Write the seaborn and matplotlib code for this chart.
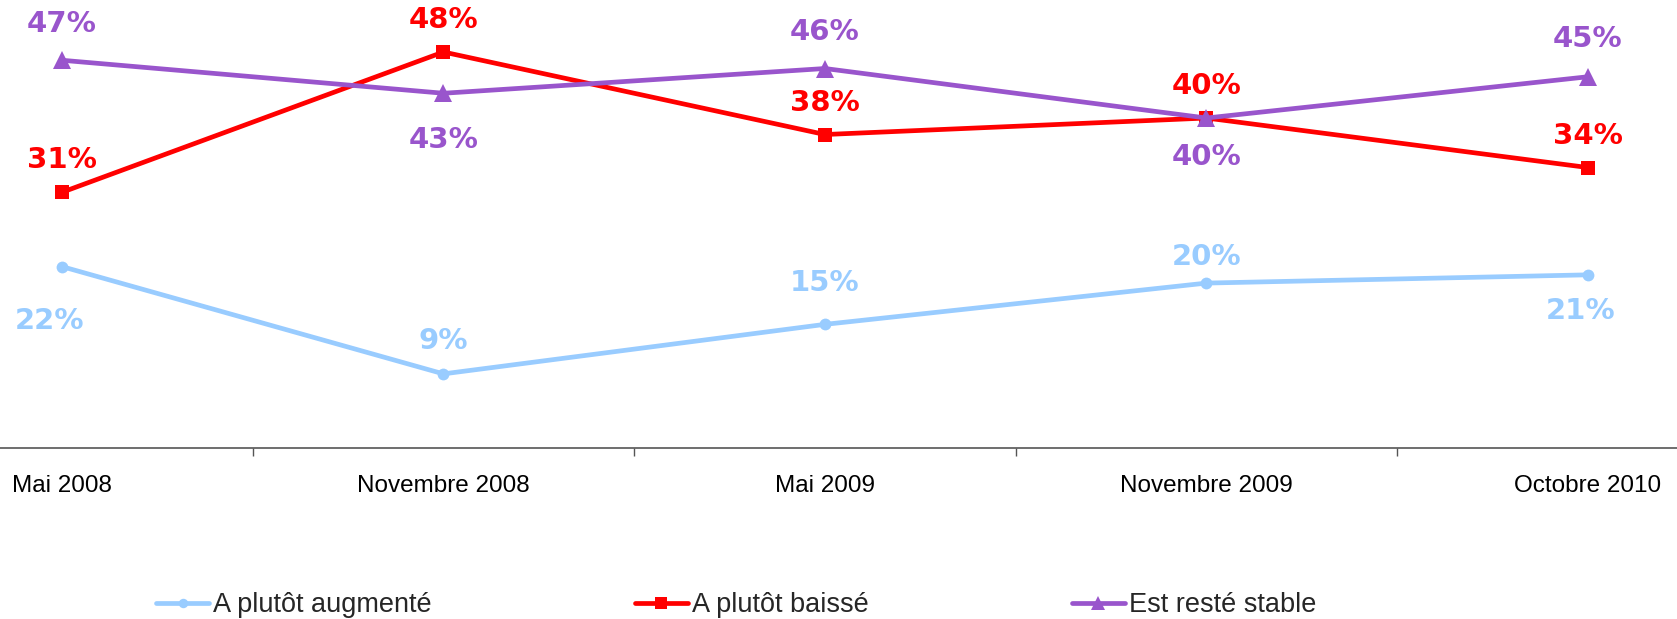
import matplotlib
matplotlib.use("Agg")
import matplotlib.pyplot as plt
from matplotlib.lines import Line2D
import seaborn as sns
import pandas as pd

# data
periods = ["Mai 2008", "Novembre 2008", "Mai 2009", "Novembre 2009", "Octobre 2010"]
augmente = [22, 9, 15, 20, 21]
baisse = [31, 48, 38, 40, 34]
stable = [47, 43, 46, 40, 45]
series_names = ["A plutôt augmenté", "A plutôt baissé", "Est resté stable"]

colors = {"A plutôt augmenté": "#99CCFF", "A plutôt baissé": "#FF0000", "Est resté stable": "#9955CC"}
markers = {"A plutôt augmenté": "o", "A plutôt baissé": "s", "Est resté stable": "^"}
msizes = {"A plutôt augmenté": 8.5, "A plutôt baissé": 10.5, "Est resté stable": 13}
# label offset in points (positive = above the point)
label_off = {
    "A plutôt augmenté": [-39, 24, 30, 19, -26],
    "A plutôt baissé": [23, 23, 23, 23, 23],
    "Est resté stable": [26, -34, 26, -28, 27],
}

df = pd.concat(
    [
        pd.DataFrame({"Periode": periods, "value": vals, "Serie": name})
        for name, vals in zip(series_names, [augmente, baisse, stable])
    ],
    ignore_index=True,
)

sns.set_style("white")
txt_font = ["Liberation Sans", "DejaVu Sans"]

fig = plt.figure(figsize=(16.77, 6.19), dpi=100)
ax = fig.add_axes([-0.0768, 0.276, 1.1374, 0.724])

for name in series_names:
    sub = df[df["Serie"] == name]
    sns.lineplot(
        data=sub, x="Periode", y="value", ax=ax, color=colors[name],
        marker=markers[name], markersize=msizes[name], markeredgewidth=0,
        linewidth=3.4, sort=False, legend=False,
    )
    for i, v in enumerate(sub["value"]):
        dx = 0
        if i == 0 and label_off[name][i] < 0:
            dx = -9
        if i == 4 and label_off[name][i] < 0:
            dx = -5
        ax.annotate(
            f"{v}%", (i, v), xytext=(dx, label_off[name][i]), textcoords="offset points",
            ha="center", va="center", color=colors[name],
            fontsize=21, fontweight="bold", family="DejaVu Sans",
        )

ax.set_xlim(-0.5, 4.5)
ax.set_ylim(0, 54.3)
ax.set_xlabel("")
ax.set_ylabel("")
ax.set_yticks([])
ax.set_xticks(range(len(periods)))
ax.set_xticklabels(periods, family=txt_font, fontsize=17.5, color="black")
ax.set_xticks([0.5, 1.5, 2.5, 3.5], minor=True)
ax.tick_params(axis="x", which="major", length=0, pad=19)
ax.tick_params(axis="x", which="minor", length=6, width=1, color="#555555", direction="out", bottom=True)
for s in ["top", "left", "right"]:
    ax.spines[s].set_visible(False)
ax.spines["bottom"].set_color("#555555")
ax.spines["bottom"].set_linewidth(1.2)

handles = [
    Line2D([], [], color=colors[n], marker=markers[n], markersize=msizes[n] * 0.8,
           markeredgewidth=0, linewidth=3.4)
    for n in series_names
]
leg = fig.legend(
    handles, series_names, loc="center", bbox_to_anchor=(0.439, 0.022), ncol=3,
    frameon=False, handlelength=1.95, handletextpad=0.15, columnspacing=7.5,
    prop={"family": txt_font, "size": 19.5},
)

fig.savefig("out.png", dpi=100)
